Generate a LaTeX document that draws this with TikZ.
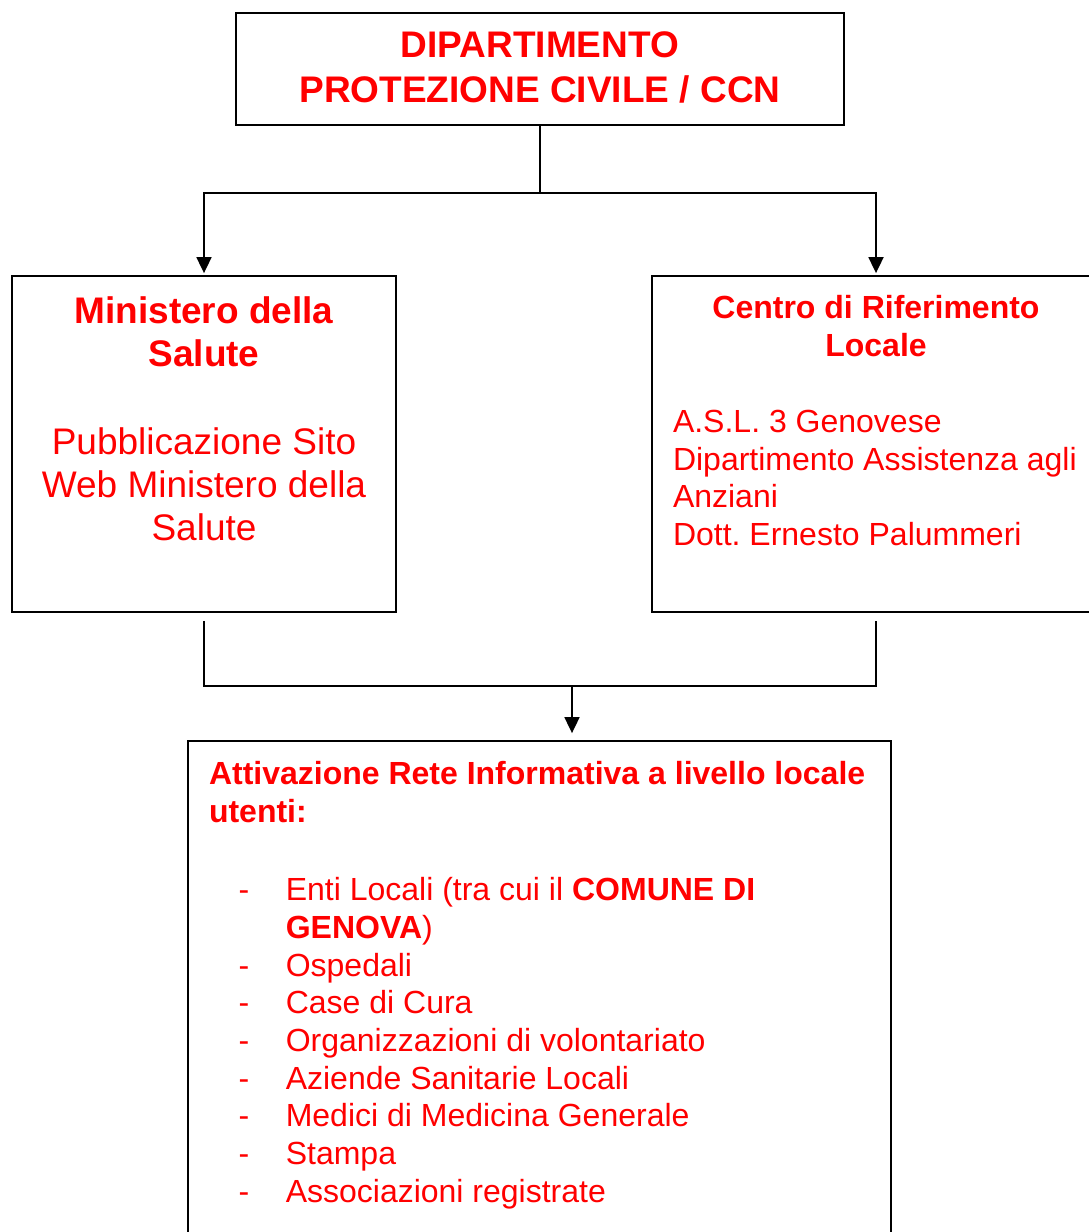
\documentclass[tikz,border=0pt]{standalone}
\usepackage{fontspec}
\setmainfont{Liberation Sans}
\usetikzlibrary{arrows.meta,calc}
\definecolor{ccred}{RGB}{255,0,0}
\frenchspacing
\begin{document}
\begin{tikzpicture}[x=1pt,y=-1pt,
  box/.style={draw=black,line width=1.8pt,inner sep=0pt,fill=none},
  txt/.style={text=ccred,inner sep=0pt,outer sep=0pt},
  conn/.style={draw=black,line width=1.8pt},
  arr/.style={conn,-{Triangle[length=16pt,width=15pt]}}]
\useasboundingbox (0,0) rectangle (1089,1232);
\fill[white] (0,0) rectangle (1089,1232);

% boxes
\node[box,minimum width=608pt,minimum height=112pt] (top) at (540,69) {};
\node[box,minimum width=384pt,minimum height=336pt] (min) at (204,444) {};
\node[box,minimum width=448pt,minimum height=336pt] (crl) at (876,444) {};
\node[box,minimum width=703pt,minimum height=519pt] (rete) at (539.5,1000.5) {};

% texts
\node[txt,anchor=north,align=center,font=\fontsize{37}{44.3}\selectfont\bfseries] (ttop) at (540,32.1)
  {DIPARTIMENTO\\PROTEZIONE CIVILE / CCN};
\node[txt,anchor=north,align=center,font=\fontsize{37}{43.3}\selectfont\bfseries] (tminh) at (204,296.5)
  {Ministero della\\Salute};
\node[txt,anchor=north,align=center,font=\fontsize{37}{43}\selectfont] (tminb) at (204,427.5)
  {Pubblicazione Sito\\Web Ministero della\\Salute};
\node[txt,anchor=north,align=center,font=\fontsize{32}{38.4}\selectfont\bfseries] (tcrlh) at (876,295)
  {Centro di Riferimento\\Locale};
\node[txt,anchor=north west,align=left,font=\fontsize{32}{37.8}\selectfont] (tcrlb) at (673,410)
  {A.S.L. 3 Genovese\\Dipartimento Assistenza agli\\Anziani\\Dott. Ernesto Palummeri};
\node[txt,anchor=north west,align=left,font=\fontsize{32}{38}\selectfont\bfseries] (treteh) at (209,761)
  {Attivazione Rete Informativa a livello locale\\utenti:};
\node[txt,anchor=north west,align=left,font=\fontsize{32}{37.7}\selectfont] (tlist) at (238.6,877.4)
  {\makebox[47.2pt][l]{-}Enti Locali (tra cui il \textbf{COMUNE DI}\\
   \hspace*{47.2pt}\textbf{GENOVA})\\
   \makebox[47.2pt][l]{-}Ospedali\\
   \makebox[47.2pt][l]{-}Case di Cura\\
   \makebox[47.2pt][l]{-}Organizzazioni di volontariato\\
   \makebox[47.2pt][l]{-}Aziende Sanitarie Locali\\
   \makebox[47.2pt][l]{-}Medici di Medicina Generale\\
   \makebox[47.2pt][l]{-}Stampa\\
   \makebox[47.2pt][l]{-}Associazioni registrate};

% connectors
\coordinate (j1) at (540,193);
\draw[conn] (top.south) -- (j1);
\draw[arr,shorten >=2pt] (j1) -| (min.north);
\draw[arr,shorten >=2pt] (j1) -| (crl.north);

\coordinate (j2) at (572,686);
\draw[conn] ($(min.south)+(0,8)$) |- (j2) -| ($(crl.south)+(0,8)$);
\draw[arr,shorten >=7pt] (j2) -- (j2 |- rete.north);
\end{tikzpicture}
\end{document}
